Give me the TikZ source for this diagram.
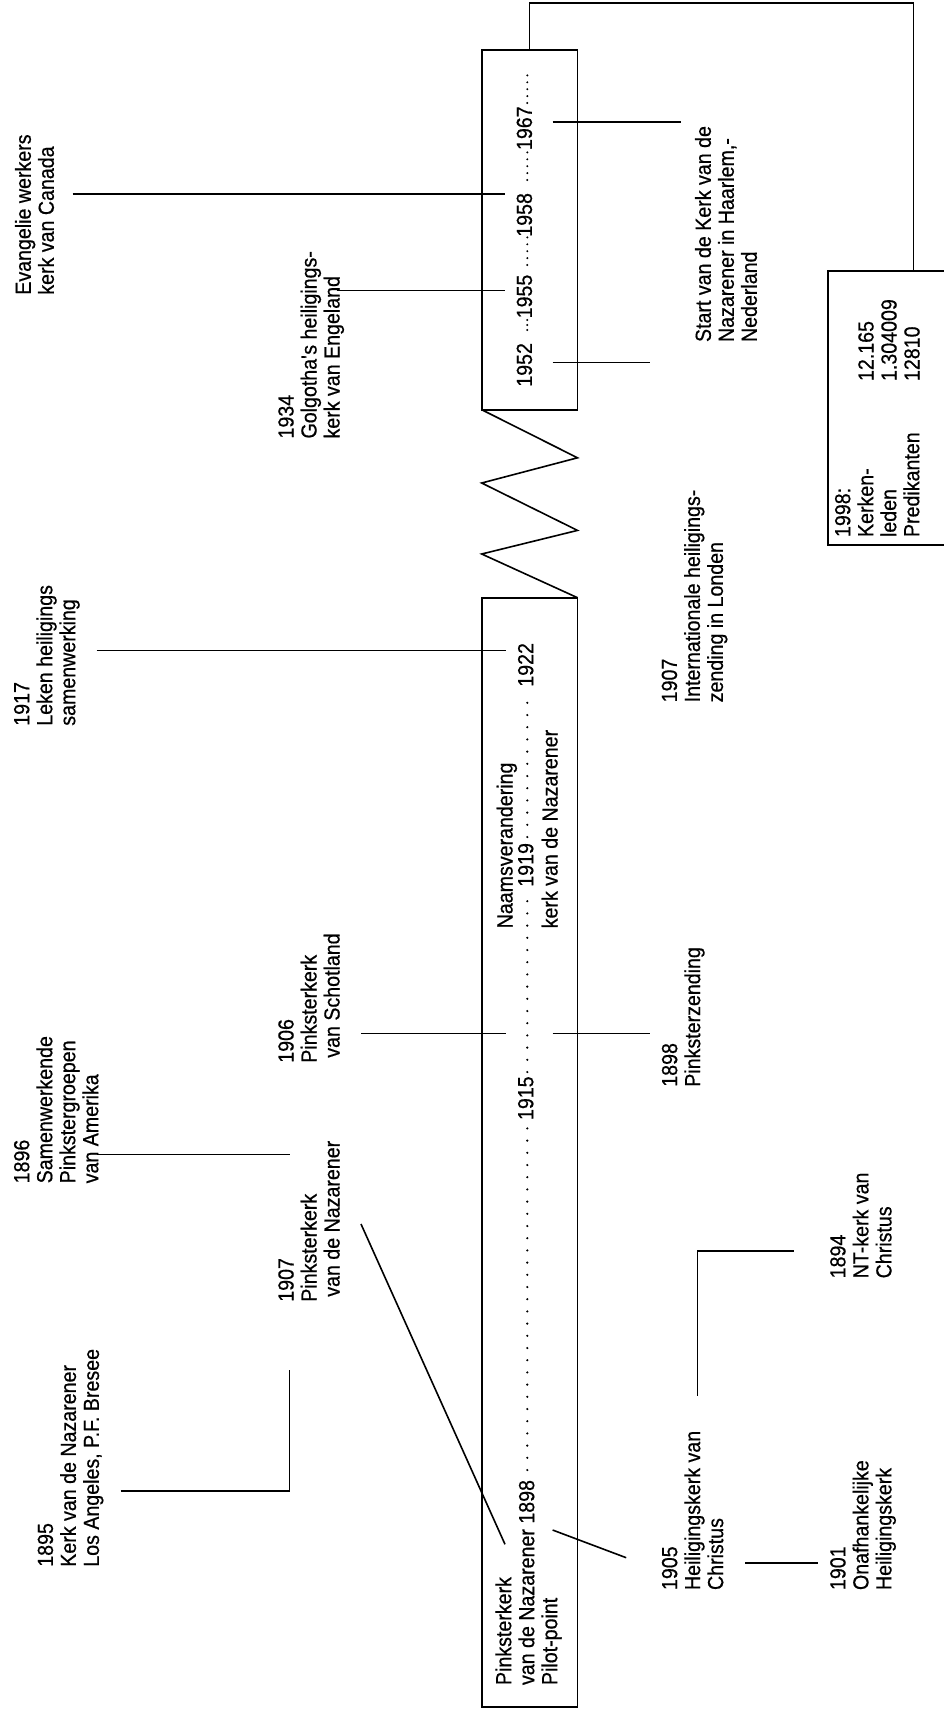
\documentclass[tikz,border=0pt]{standalone}
\usepackage{fontspec}
\setmainfont{Liberation Sans}[FakeStretch=0.9,FakeBold=0.6]
\begin{document}
\begin{tikzpicture}[x=1pt,y=-1pt,
  lbl/.style={rotate=90, anchor=north west, inner sep=0pt, outer sep=0pt, align=left, font=\fontsize{21.8}{23}\selectfont},
  ln/.style={line width=1.6pt},
  frame/.style={draw, line width=1.6pt, inner sep=0pt, outer sep=0pt},
  dotsL/.style={line width=2.4pt, line cap=round, dash pattern=on 0pt off 12.2pt},
  dotsS/.style={line width=2.2pt, line cap=round, dash pattern=on 0pt off 6.9pt}]
\useasboundingbox (0,0) rectangle (944,1716);

% boxes
\node[frame, minimum width=95.8pt, minimum height=359.7pt] (boxUp) at (529.6,229.85) {};
\node[frame, minimum width=95.8pt, minimum height=1109pt] (boxLow) at (529.6,1152.2) {};
\node[frame, minimum width=122pt, minimum height=274pt] (box98) at (889,407.8) {};

% zigzag between boxes
\coordinate (z1) at (577.5,457.8);
\coordinate (z2) at (481.7,483);
\coordinate (z3) at (577.5,530.4);
\coordinate (z4) at (481.7,554);
\draw[ln] (boxUp.south west) -- (z1) -- (z2) -- (z3) -- (z4) -- (boxLow.north east);

% top connector to 1998 box
\coordinate (tl) at (529.6,2.8);
\coordinate (tr) at (913.3,2.8);
\draw[ln] (boxUp.north) -- (tl) -- (tr) -- (tr |- box98.north);

% upper box content
\node[lbl] (t1952) at (516.7,386.7) {1952};
\node[lbl] (t1955) at (516.7,318.3) {1955};
\node[lbl] (t1958) at (516.7,236.7) {1958};
\node[lbl] (t1967) at (516.7,150) {1967};
\coordinate (u1a) at (527.3,330); \coordinate (u1b) at (527.3,319);
\coordinate (u2a) at (527.3,265); \coordinate (u2b) at (527.3,237);
\coordinate (u3a) at (527.3,180); \coordinate (u3b) at (527.3,152);
\coordinate (u4a) at (527.3,103); \coordinate (u4b) at (527.3,75);
\draw[dotsS, dash pattern=on 0pt off 5pt] (u1a) -- (u1b);
\draw[dotsS] (u2a) -- (u2b);
\draw[dotsS] (u3a) -- (u3b);
\draw[dotsS] (u4a) -- (u4b);

% lower box content
\node[lbl] (tPink) at (495.4,1685) {Pinksterkerk\\van de Nazarener 1898\\Pilot-point};
\node[lbl] (t1915) at (518,1120) {1915};
\node[lbl] (tNaam) at (496.7,928.3) {Naamsverandering};
\node[lbl] (t1919) at (518,886.7) {1919};
\node[lbl] (tKerk) at (541.7,928.3) {kerk van de Nazarener};
\node[lbl] (t1922) at (518,686.7) {1922};
\coordinate (l1a) at (527.3,1470); \coordinate (l1b) at (527.3,1127);
\coordinate (l2a) at (527.3,1072); \coordinate (l2b) at (527.3,892);
\coordinate (l3a) at (527.3,837); \coordinate (l3b) at (527.3,692);
\draw[dotsL] (l1a) -- (l1b);
\draw[dotsL] (l2a) -- (l2b);
\draw[dotsL] (l3a) -- (l3b);

% outside labels
\node[lbl] (tEv) at (15,294.7) {Evangelie werkers\\kerk van Canada};
\node[lbl] (t1934) at (278.3,438.5) {1934\\Golgotha\textquotesingle s heiligings-\\kerk van Engeland};
\node[lbl] (tStart) at (695,342) {Start van de Kerk van de\\Nazarener in Haarlem,-\\Nederland};
\node[lbl] (t98) at (835,537) {1998:\\Kerken-\\leden\\Predikanten};
\node[lbl] (t98n) at (858.3,381) {12.165\\1.304009\\12810};
\node[lbl] (t1917) at (14,725.7) {1917\\Leken heiligings\\samenwerking};
\node[lbl] (t1907b) at (661.7,702.3) {1907\\Internationale heiligings-\\zending in Londen};
\node[lbl] (t1906) at (278.3,1062.7) {1906\\Pinksterkerk\\\hspace*{5pt}van Schotland};
\node[lbl] (t1898z) at (661.9,1086.7) {1898\\Pinksterzending};
\node[lbl] (t1896) at (14,1183.3) {1896\\Samenwerkende\\Pinkstergroepen\\van Amerika};
\node[lbl] (t1894) at (830.2,1278.3) {1894\\NT-kerk van\\Christus};
\node[lbl] (t1907a) at (278.3,1301.7) {1907\\Pinksterkerk\\\hspace*{5pt}van de Nazarener};
\node[lbl] (t1895) at (37.7,1566.7) {1895\\Kerk van de Nazarener\\Los Angeles, P.F. Bresee};
\node[lbl] (t1905) at (661.9,1590) {1905\\Heiligingskerk van\\Christus};
\node[lbl] (t1901) at (830.2,1590) {1901\\Onafhankelijke\\Heiligingskerk};

% connectors
\coordinate (e1) at (72.7,194);   \coordinate (e2) at (505,194);
\coordinate (g1) at (336.7,290.5); \coordinate (g2) at (505,290.5);
\coordinate (s1) at (552.7,121.7); \coordinate (s2) at (680.7,121.7);
\coordinate (s3) at (552.7,362.3); \coordinate (s4) at (650,362.3);
\coordinate (k1) at (96.7,650.5);  \coordinate (k2) at (505.7,650.5);
\coordinate (p1) at (361,1033.6);  \coordinate (p2) at (505.8,1033.6);
\coordinate (q1) at (552.6,1033.6); \coordinate (q2) at (649.8,1033.6);
\coordinate (a1) at (96.7,1154.5); \coordinate (a2) at (290,1154.5);
\coordinate (b1) at (120.7,1491);  \coordinate (b2) at (289.3,1491); \coordinate (b3) at (289.3,1370);
\coordinate (d1) at (361,1224);    \coordinate (d2) at (505,1544.3);
\coordinate (n1) at (793.8,1251);  \coordinate (n2) at (697.3,1251); \coordinate (n3) at (697.3,1395.7);
\coordinate (h1) at (552.6,1530);  \coordinate (h2) at (626.2,1557.7);
\coordinate (o1) at (745.2,1562.7); \coordinate (o2) at (818,1562.7);

\draw[ln] (e1) -- (e2);
\draw[ln] (g1) -- (g2);
\draw[ln] (s1) -- (s2);
\draw[ln] (s3) -- (s4);
\draw[ln] (k1) -- (k2);
\draw[ln] (p1) -- (p2);
\draw[ln] (q1) -- (q2);
\draw[ln] (a1) -- (a2);
\draw[ln] (b1) -- (b2) -- (b3);
\draw[ln] (d1) -- (d2);
\draw[ln] (n1) -- (n2) -- (n3);
\draw[ln] (h1) -- (h2);
\draw[ln] (o1) -- (o2);
\end{tikzpicture}
\end{document}
